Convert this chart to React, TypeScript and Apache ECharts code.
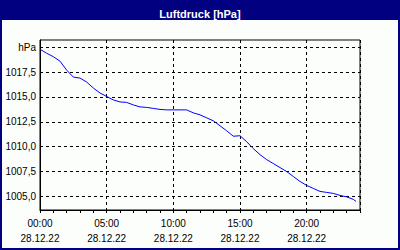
import React, { useEffect, useRef } from "react";
import * as echarts from "echarts";

const hours = [0, 0.5, 1, 1.5, 2, 2.5, 3, 3.5, 4, 4.5, 5, 5.5, 6, 6.5, 7, 7.5, 8, 8.5, 9, 9.5, 10, 10.5, 11, 11.5, 12, 12.5, 13, 13.5, 14, 14.5, 15, 15.5, 16, 16.5, 17, 17.5, 18, 18.5, 19, 19.5, 20, 20.5, 21, 21.5, 22, 22.5, 23, 23.5, 23.7];
const pressure = [1019.8, 1019.4, 1019.05, 1018.6, 1017.7, 1017.0, 1016.9, 1016.5, 1015.9, 1015.4, 1015.05, 1014.7, 1014.5, 1014.45, 1014.2, 1014.0, 1013.95, 1013.85, 1013.75, 1013.7, 1013.7, 1013.7, 1013.7, 1013.4, 1013.2, 1012.9, 1012.6, 1012.1, 1011.6, 1011.05, 1011.1, 1010.5, 1009.8, 1009.2, 1008.7, 1008.3, 1007.9, 1007.5, 1007.0, 1006.5, 1006.1, 1005.8, 1005.5, 1005.4, 1005.3, 1005.1, 1004.95, 1004.7, 1004.5];
const yTicks = [1005, 1007.5, 1010, 1012.5, 1015, 1017.5, 1020];
const dateLabel = "28.12.22";
const titleText = "Luftdruck [hPa]";

const FONT = "Liberation Sans";

export default function App() {
  const ref = useRef<HTMLDivElement>(null);
  useEffect(() => {
    if (!ref.current) return;
    const chart = echarts.init(ref.current, undefined, { renderer: "svg" });
    const data = hours.map((h, i) => [h, pressure[i]]);
    chart.setOption({
      animation: false,
      backgroundColor: "#fcfefc",
      title: {
        text: titleText,
        left: "center",
        top: 3,
        z: 10,
        textStyle: { color: "#ffffff", fontSize: 11, fontWeight: "bold", fontFamily: FONT },
      },
      graphic: [
        { type: "rect", z: 0, shape: { x: 0, y: 0, width: 400, height: 20 }, style: { fill: "#000080" } },
        { type: "rect", z: 0, shape: { x: 1, y: 1, width: 398, height: 248 }, style: { fill: "none", stroke: "#000080", lineWidth: 2 } },
      ],
      grid: {
        left: 40,
        top: 40,
        right: 40,
        bottom: 40,
        show: true,
        borderColor: "#000",
        borderWidth: 1,
        backgroundColor: "transparent",
      },
      xAxis: [
        {
          type: "value",
          min: 0,
          max: 24,
          interval: 1,
          axisLine: { show: true, lineStyle: { color: "#000", width: 1 } },
          axisTick: { show: true, length: 3, inside: false, lineStyle: { color: "#000" } },
          axisLabel: { show: false },
          splitLine: { show: false },
        },
        {
          type: "value",
          position: "bottom",
          min: 0,
          max: 24,
          interval: 5,
          axisLine: { show: false },
          axisTick: { show: false },
          axisLabel: {
            show: true,
            showMaxLabel: false,
            margin: 6,
            lineHeight: 15,
            color: "#000",
            fontSize: 10,
            fontFamily: FONT,
            formatter: (v: number) => `${String(v).padStart(2, "0")}:00\n${dateLabel}`,
          },
          splitLine: { show: true, lineStyle: { color: "#000", type: [3, 3], width: 1 } },
        },
      ],
      yAxis: {
        type: "value",
        min: 1003.63,
        max: 1020.73,
        axisLine: { show: true, lineStyle: { color: "#000", width: 1 } },
        axisTick: { show: false, customValues: yTicks },
        axisLabel: {
          customValues: yTicks,
          margin: 4,
          color: "#000",
          fontSize: 10,
          fontFamily: FONT,
          formatter: (v: number) => (v === 1020 ? "hPa" : v.toFixed(1).replace(".", ",")),
        },
        splitLine: { show: true, lineStyle: { color: "#000", type: [3, 3], width: 1 } },
      },
      series: [
        {
          type: "line",
          xAxisIndex: 0,
          data,
          showSymbol: false,
          lineStyle: { color: "#0000ff", width: 1 },
          itemStyle: { color: "#0000ff" },
        },
      ],
    });
    return () => chart.dispose();
  }, []);
  return <div ref={ref} style={{ position: "fixed", left: 0, top: 0, width: 400, height: 250 }} />;
}
